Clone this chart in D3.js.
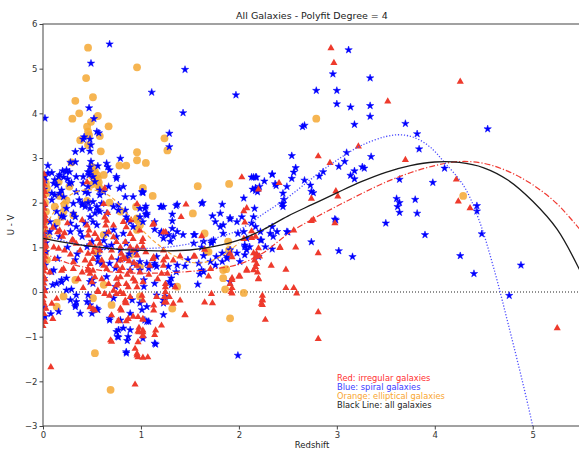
<!DOCTYPE html>
<html>
<head>
<meta charset="utf-8">
<script src="https://cdn.jsdelivr.net/npm/d3@7"></script>
<style>
  body { margin: 0; background: #fff; }
  text { font-family: "DejaVu Sans", sans-serif; }
</style>
</head>
<body>
<div id="chart"></div>
<script>
// U - V colour against redshift, three galaxy types + degree 4 fits
var xTicks = [0, 1, 2, 3, 4, 5];
var yTicks = [-3, -2, -1, 0, 1, 2, 3, 4, 5, 6];

var ellipticals = [
  [0.46,5.47],[0.96,5.03],[0.44,4.79],[0.51,4.36],[0.33,4.28],[0.37,4.0],[0.30,3.88],[0.56,3.94],[0.49,3.81],[0.45,3.70],
  [0.46,3.59],[0.47,3.51],[0.67,3.71],[0.38,3.40],[0.58,3.49],[0.46,3.29],[0.59,3.15],[1.24,3.44],[1.27,3.17],[0.96,3.13],
  [0.96,2.95],[1.05,2.89],[0.78,2.83],[0.85,2.83],[0.29,2.90],[0.50,2.80],[0.52,2.67],[0.55,2.62],[0.56,2.54],[0.53,2.51],
  [0.27,2.36],[0.16,2.47],[0.56,2.39],[0.58,2.32],[0.45,2.04],[0.68,2.0],[0.17,2.15],[0.03,2.43],[0.04,2.32],[0.03,2.21],
  [1.02,2.33],[1.12,2.15],[1.58,2.37],[1.90,2.42],[1.53,1.76],[0.95,1.91],[0.96,1.63],[0.12,1.91],[0.21,1.80],[0.19,1.68],
  [0.31,1.72],[0.96,1.65],[0.99,1.50],[0.96,1.39],[0.62,1.28],[0.55,0.87],[0.99,0.57],[0.89,0.83],[0.33,0.27],[0.62,0.16],
  [0.21,-0.10],[0.14,-0.33],[0.51,-0.14],[0.70,-0.29],[0.99,-0.10],[1.32,-0.37],[0.53,-1.37],[0.69,-2.19],[1.65,1.31],[1.67,0.90],
  [1.84,0.31],[1.86,0.06],[2.05,-0.02],[1.91,-0.59],[1.89,1.13],[1.90,0.94],[1.87,0.51],[1.84,0.49],[1.37,0.12],[0.04,0.72],
  [2.79,3.88],[4.29,2.15],[0.01,1.10],[0.02,1.35],[0.01,1.60],[0.03,1.80],[0.02,2.00],[0.05,1.25],[0.02,0.90],[0.79,1.80],
  [0.53,2.70],[0.50,2.60],[0.57,2.45],[0.49,2.40],[0.22,1.95],[0.24,2.05],[1.69,0.90],[0.62,2.62],[0.14,1.55]
];

var spirals = [
  [1.97,4.41],[3.12,5.42],[2.96,4.88],[3.34,4.79],[2.79,4.51],[3.0,4.51],[3.0,4.21],[3.14,4.14],[3.34,4.17],[3.34,3.93],
  [3.18,3.75],[2.65,3.70],[2.67,3.73],[3.70,3.77],[3.82,3.54],[3.84,3.20],[4.54,3.65],[2.54,3.05],[3.10,3.12],[3.35,3.03],
  [2.58,2.78],[2.56,2.68],[2.54,2.54],[3.02,2.81],[3.08,2.92],[3.14,2.61],[3.18,2.71],[3.18,2.53],[3.26,2.80],[3.28,2.77],
  [2.82,2.59],[2.86,2.69],[2.67,2.50],[2.73,2.39],[2.74,2.25],[2.76,2.22],[2.34,2.63],[2.26,2.48],[2.38,2.38],[2.13,2.57],
  [2.17,2.57],[2.14,2.30],[2.17,2.33],[2.19,2.24],[2.05,2.10],[2.46,2.07],[2.44,1.97],[2.45,1.91],[2.98,1.63],[4.10,2.77],
  [3.98,2.45],[3.64,2.52],[3.61,2.09],[3.64,2.0],[3.62,1.91],[3.64,1.78],[3.80,2.07],[3.82,1.76],[4.43,1.93],[4.43,1.81],
  [3.50,1.54],[3.90,1.28],[4.26,0.81],[4.40,0.41],[4.48,1.30],[4.88,0.60],[4.76,-0.08],[3.02,0.92],[3.16,0.79],[2.74,1.12],
  [2.99,1.61],[1.99,-1.42],[2.34,0.96],[2.50,1.34],[2.22,1.16],
  [0.68,5.55],[0.49,5.12],[1.45,4.98],[1.11,4.47],[1.43,4.01],[0.47,4.12],[0.02,3.89],[0.52,3.88],[1.29,3.55],[0.55,3.59],
  [0.57,3.56],[0.42,3.47],[0.41,3.42],[0.48,3.42],[0.40,3.19],[0.49,3.29],[0.48,3.15],[0.33,3.14],[1.29,3.25],[0.28,2.90],
  [0.33,2.91],[0.05,2.83],[0.49,2.92],[0.56,2.82],[0.66,2.80],[0.79,2.99],[0.75,2.54],[0.78,2.32],[0.09,2.67],[0.02,2.58],
  [0.20,2.71],[0.24,2.73],[0.27,2.69],[0.16,2.58],[0.21,2.57],[0.25,2.53],[0.11,2.43],[0.14,2.39],[0.27,2.43],[0.29,2.45],
  [0.19,2.28],[0.17,2.21],[0.12,2.17],[0.09,2.06],[0.21,2.13],[0.41,2.43],[0.43,2.24],[0.46,2.36],[0.48,2.80],[0.46,2.69],
  [0.47,2.62],[0.51,2.58],[0.53,2.47],[0.58,2.28],[0.58,2.17],[0.37,2.06],[0.40,1.98],[0.43,1.91],[0.46,2.0],[0.51,2.02],
  [0.55,1.91],[0.60,1.98],[0.58,1.80],[0.53,1.76],[0.31,1.76],[0.21,1.68],[0.62,2.24],[0.77,1.83],[1.02,2.24],[1.05,1.92],
  [1.05,1.74],[1.20,1.91],[1.36,1.93],[1.32,1.74],[1.63,2.0],[1.83,1.96],[1.91,1.66],[0.87,1.61],
  [0.07,1.57],[0.12,1.46],[0.07,1.35],[0.17,1.24],[0.28,1.54],[0.34,1.46],[0.38,1.35],[0.43,1.54],[0.48,1.68],[0.51,1.57],
  [0.55,1.50],[0.40,1.24],[0.28,1.35],[0.33,1.68],[0.19,1.70],[0.14,1.80],[0.24,1.87],[0.31,1.98],[0.40,1.95],[0.48,1.87],
  [0.56,1.83],[0.65,1.76],[0.72,1.91],[0.77,1.95],[0.84,1.83],[0.85,1.68],[0.89,1.57],[0.92,1.46],[0.99,1.68],[1.02,1.57],
  [1.06,1.76],[0.99,1.87],[0.65,1.31],[0.72,1.39],[0.75,1.24],[0.82,1.31],[0.85,1.09],[0.79,0.94],[0.65,1.01],[0.58,0.94],
  [0.50,1.13],[0.45,1.01],[0.34,2.24],[0.41,2.58],[0.48,2.69],[0.65,2.88],[0.68,2.73],[0.75,2.58],[0.67,2.36],[0.46,2.21],
  [0.34,2.58],[0.24,2.69],[0.17,2.62],[0.12,2.51],[0.09,2.21],[0.05,2.66],[0.82,2.36],[0.92,2.13],[0.84,2.13],
  [0.11,0.49],[0.10,0.16],[0.19,0.22],[0.24,0.31],[0.29,0.06],[0.33,0.72],[0.48,0.23],[0.51,0.19],[0.50,0.27],[0.56,0.79],
  [0.60,0.64],[0.56,0.68],[0.68,0.64],[0.74,0.53],[0.77,0.72],[0.85,0.75],[0.92,0.64],[0.99,0.68],[0.89,0.49],[0.99,0.49],
  [0.46,-0.07],[0.56,-0.40],[0.34,-0.22],[0.33,-0.29],[0.16,-0.44],[0.02,-0.55],[0.50,-0.48],[0.68,-0.63],[0.79,-0.63],[0.89,-0.48],
  [0.75,-0.89],[0.77,-1.01],[0.86,-1.09],[0.85,-1.34],[0.99,-0.25],[1.01,-0.40],[0.72,-0.14],
  [1.02,2.22],[1.04,1.87],[1.06,1.72],[1.21,1.91],[1.14,1.57],[1.14,1.40],[1.32,1.59],[1.37,1.96],[1.81,1.76],[1.73,1.70],
  [1.76,1.57],[1.32,1.42],[1.37,1.35],[1.28,1.28],[1.30,1.13],[1.43,1.28],[1.54,1.28],[1.64,1.13],[1.72,1.09],[1.84,1.50],
  [1.84,1.31],[1.91,1.63],[1.98,1.57],[2.03,1.68],[1.99,1.31],[2.05,1.35],[2.08,1.20],[2.06,1.05],[2.08,0.94],[2.11,1.01],
  [2.13,1.54],[2.15,1.68],[2.16,1.87],[2.17,1.46],[2.23,1.16],[2.27,1.01],[2.20,0.79],[2.34,1.46],[2.35,1.24],[2.49,1.35],
  [2.45,1.98],[2.45,2.21],[2.49,2.36],[2.34,2.64],[2.15,2.57],[2.18,2.57],[2.17,2.27],[2.21,2.36],[2.37,2.42],[1.01,2.24],
  [1.91,0.94],[1.88,0.79],[1.98,0.87],[1.83,0.87],[1.77,0.79],[1.54,1.09],[1.62,1.0],[1.74,1.16],[1.23,1.20],[1.21,1.35],
  [1.33,1.24],
  [1.14,0.60],[1.16,0.57],[1.36,0.45],[1.29,0.23],[1.31,0.16],[1.14,0.19],[1.03,0.27],[1.03,0.12],[1.25,-0.10],[1.23,-0.25],
  [1.06,-0.33],[1.08,-0.66],[1.02,-1.04],[1.15,-1.17],[1.58,0.17],[1.62,0.49],[1.60,0.40],[1.64,0.45],[1.45,0.58],[1.48,0.72],
  [1.59,0.64],[1.64,0.81],[1.71,0.68],[1.76,0.60],[1.83,0.68],[1.88,0.75],[1.91,0.23],[2.01,0.68],[1.14,0.64],[1.06,0.64],
  [1.08,0.53],
  [1.23,1.91],[1.62,1.98],[1.20,1.31],[1.26,1.31],[1.55,1.28],[1.72,1.13],[1.81,1.46],[2.06,0.83],[2.06,1.01],[2.22,1.35],
  [2.32,1.31],[2.39,1.35],[1.16,0.79],[1.31,0.31],[1.28,0.57],[1.23,-0.18],[1.16,-0.07],[1.37,0.60],[1.23,-0.51],[1.14,-1.15],
  [0.85,-1.37],[0.76,-1.0],[0.68,-0.59],[0.89,-0.85],[0.87,-1.0],[1.04,-0.63],[1.06,-0.66],[0.48,-0.29],[0.45,-0.22],[0.55,-0.37],
  [0.33,-0.33],[0.38,-0.48],[0.77,-0.85],[0.82,-0.81],[0.65,0.34],[0.74,0.12],[0.91,-0.18],[0.09,0.45],[0.14,0.19],[0.24,0.04],
  [0.19,0.27],[0.08,-0.49],[0.28,-0.18],[0.34,-0.07],
  [0.01,1.9],[0.02,1.6],[0.01,1.3],[0.03,0.9],[0.02,0.6],[0.01,0.3],[0.02,0.05],[0.01,-0.35],[0.00,-0.6],[0.01,2.3],
  [0.02,2.5],[0.03,1.1],[0.70,1.05],[0.62,1.15],[0.88,0.85],[0.95,0.90],[0.35,0.85],[0.25,1.00],[0.15,0.75]
];

var irregulars = [
  [0.00,2.52],[0.01,2.42],[0.00,2.33],[0.02,2.25],[0.01,2.15],[0.00,2.05],[0.02,1.97],[0.01,1.88],[0.00,1.80],[0.02,1.72],
  [0.01,1.62],[0.00,1.55],[0.02,1.48],[0.01,1.40],[0.00,1.32],[0.02,1.25],[0.01,1.18],[0.00,1.10],[0.02,1.02],[0.01,0.95],
  [0.00,0.88],[0.02,0.80],[0.01,0.72],[0.00,0.64],[0.02,0.55],[0.01,0.47],[0.00,0.38],[0.02,0.30],[0.01,0.20],[0.00,0.12],
  [0.02,0.03],[0.01,-0.08],[0.00,-0.17],[0.01,-0.25],[0.03,-0.36],[0.01,-0.48],[0.02,-0.66],[0.00,-0.75],[0.01,2.65],[0.03,1.60],
  [0.03,1.05],
  [0.10,-0.59],[0.08,-1.67],[0.70,-1.10],[0.77,-0.64],[0.84,-0.22],[0.85,-0.24],[0.80,-0.40],[0.85,-0.64],[0.92,-0.54],[0.97,-0.55],
  [1.02,-0.61],[0.98,-0.79],[0.97,-0.87],[0.98,-0.89],[1.02,-0.89],[1.02,-0.98],[0.97,-1.11],[0.94,-1.26],[0.96,-1.37],[0.97,-1.45],
  [1.02,-1.46],[1.07,-1.45],[0.94,-2.06],[1.13,-0.29],[1.13,-0.40],[1.15,-0.85],[1.14,-0.95],[1.21,-0.74],[1.24,-0.22],[1.45,-0.51],
  [0.51,-0.37],
  [0.19,0.49],[0.09,-0.25],[0.31,0.53],[0.46,0.53],[0.48,0.42],[0.51,0.49],[0.48,0.64],[0.43,0.72],[0.56,0.01],[0.67,0.19],
  [0.77,0.19],[0.75,0.31],[0.53,0.34],[0.50,0.23],[0.63,-0.03],[0.70,-0.51],[0.77,-0.63],[0.79,-0.36],[0.87,-0.59],[0.69,-1.07],
  [0.96,-1.41],[0.82,-0.03],[0.75,-0.03],[0.87,0.12],[0.96,0.12],[0.79,0.72],[0.82,0.79],
  [1.46,1.97],[1.41,1.69],[1.12,1.52],[1.25,1.35],[1.62,1.26],[2.06,1.57],[2.13,1.37],[2.17,1.25],[2.13,1.22],[2.05,1.20],
  [2.20,0.99],[2.18,0.87],[2.21,0.81],[2.42,1.0],[1.65,0.96],[1.54,0.81],[1.40,0.81],[1.23,0.94],[1.26,0.79],[1.01,1.13],
  [1.02,1.01],[1.91,0.87],[1.93,0.79],
  [2.15,0.88],[2.17,0.80],[2.16,0.72],[2.18,0.64],[2.17,0.57],[2.15,0.50],[2.19,0.45],[2.33,0.60],[2.48,0.51],[2.20,0.31],
  [2.0,0.36],[2.08,0.51],[1.93,0.32],[1.91,0.19],[1.93,0.10],[1.92,0.01],[1.72,-0.03],[1.65,-0.22],[1.73,-0.24],[1.71,0.53],
  [1.69,0.36],[1.55,0.81],[1.33,0.72],[1.23,0.72],[1.23,0.60],[1.27,0.42],[1.21,0.42],[1.25,0.12],[1.25,0.01],[1.24,-0.10],
  [1.26,-0.22],[1.29,-0.10],[1.35,0.12],[1.45,-0.50],[2.24,-0.07],[2.24,-0.18],[2.23,-0.25],[2.27,-0.61],[1.02,-0.59],[1.02,-0.85],
  [1.02,-0.96],[1.02,-0.18],[1.01,-0.07],[1.09,0.60],[1.12,0.75],[1.13,0.79],
  [0.62,1.98],[0.96,1.98],[0.45,2.47],[0.63,1.68],[0.65,1.61],[0.64,1.50],[0.45,1.50],[0.47,1.39],[0.46,1.28],[0.17,1.39],
  [0.22,1.33],[0.11,1.01],[0.16,0.98],[0.22,0.94],[0.31,1.16],[0.34,1.09],[0.38,0.94],[0.53,1.31],[0.56,1.20],[0.58,1.09],
  [0.53,1.01],[0.51,0.90],[0.67,1.35],[0.72,1.24],[0.75,1.13],[0.79,1.01],[0.70,0.94],[0.80,0.87],[0.85,1.46],[0.89,1.31],
  [0.92,1.20],[0.84,1.13],[0.96,1.01],[0.99,1.39],[1.02,1.20],
  [0.10,1.45],[0.15,1.35],[0.20,1.25],[0.30,1.18],[0.31,0.68],[0.21,0.53],[0.07,0.45],[0.40,0.45],[0.46,0.49],[0.56,0.04],
  [0.48,-0.33],[0.53,-0.40],[0.14,-0.14],[1.13,1.54],[1.23,1.35],
  [0.96,0.60],[0.89,0.49],[0.99,0.45],[1.02,0.23],[0.92,0.31],[0.85,0.19],[0.79,0.34],[0.75,0.16],[0.72,0.04],[0.68,-0.07],
  [0.79,0.01],[0.89,-0.10],[0.84,-0.18],
  [0.89,1.01],[0.92,0.94],[0.96,0.83],[0.84,0.75],[0.75,0.60],[0.65,0.53],[0.60,0.72],[0.51,0.75],[0.58,0.94],[0.48,1.09],
  [0.46,0.87],[1.25,0.19],[1.16,-0.10],[1.33,-0.25],[1.40,-0.18],
  [2.94,5.47],[2.97,5.14],[3.52,4.28],[4.26,4.72],[3.22,3.27],[2.81,3.05],[2.93,2.90],[3.70,2.97],[2.03,2.58],[2.41,2.45],
  [2.20,2.31],[2.99,2.27],[3.01,2.15],[2.74,2.10],[4.22,2.53],[4.24,2.04],[4.36,1.89],[2.08,1.89],[2.05,1.82],[2.76,1.63],
  [5.25,-0.80],[2.74,1.60],[2.98,1.55],[2.56,1.39],[2.81,0.88],[2.58,1.01],[2.42,1.01],[2.48,0.10],[2.56,0.10],[2.59,-0.02],
  [2.81,-0.44],[2.81,-1.04],[2.24,-0.16],[2.24,-0.28],[2.20,0.30],[2.08,0.49],[2.01,0.36],[1.93,0.28],[1.93,-0.02],
  [0.88,0.70],[0.93,0.66],[0.81,0.55],[0.86,0.40],[0.94,0.25],[0.78,0.48],[0.70,0.78],[0.62,0.60],[0.90,1.62],[0.82,1.58],
  [0.66,1.78],[0.40,1.62],[0.28,0.85],[0.36,0.30],[0.41,0.10],[0.60,0.30],[1.05,0.90],[1.08,0.40],[1.17,0.30],[0.72,1.50],
  [0.25,1.55],[0.12,0.75],[0.63,2.33]
];

// fit curves
var fitAll = [[0,1.20],[0.25,1.10],[0.5,1.02],[0.75,0.96],[1.0,0.93],[1.25,0.92],[1.5,0.94],[1.75,1.02],[2.0,1.16],
  [2.25,1.40],[2.5,1.70],[2.75,1.96],[3.0,2.22],[3.25,2.47],[3.5,2.68],[3.75,2.83],[4.0,2.91],[4.25,2.90],[4.5,2.78],
  [4.75,2.50],[5.0,2.03],[5.25,1.40],[5.5,0.40]];
var fitSpiral = [[0,1.28],[0.25,1.12],[0.5,1.02],[0.75,0.97],[1.0,0.97],[1.25,1.0],[1.5,1.08],[1.75,1.20],[2.0,1.39],
  [2.25,1.75],[2.5,2.12],[2.75,2.55],[3.0,2.95],[3.25,3.28],[3.5,3.48],[3.65,3.52],[3.8,3.45],[3.95,3.25],[4.1,2.90],
  [4.3,2.36],[4.45,1.62],[4.6,0.55],[4.75,-0.72],[4.9,-2.05],[5.0,-3.0],[5.03,-3.3]];
var fitIrregular = [[0,0.88],[0.25,0.65],[0.5,0.52],[0.75,0.44],[1.0,0.42],[1.25,0.43],[1.5,0.46],[1.75,0.52],[2.0,0.62],
  [2.25,0.88],[2.5,1.30],[2.75,1.63],[3.0,1.92],[3.25,2.20],[3.5,2.46],[3.75,2.67],[4.0,2.83],[4.25,2.92],[4.5,2.88],
  [4.75,2.70],[5.0,2.40],[5.25,1.97],[5.5,1.35]];
var fitElliptical = [[0,1.35],[0.1,1.75],[0.2,2.02],[0.3,2.20],[0.45,2.29],[0.6,2.24],[0.7,2.12],[0.8,1.90],[0.9,1.65],
  [1.0,1.42],[1.1,1.20],[1.23,0.97],[1.35,0.80],[1.5,0.67],[1.6,0.65],[1.7,0.69],[1.8,0.78],[1.9,0.92],[2.0,1.10]];

var legendLines = [
  ["Red: irregular galaxies", "#ff3030"],
  ["Blue: spiral galaxies", "#3a3aff"],
  ["Orange: elliptical galaxies", "#f9a630"],
  ["Black Line: all galaxies", "#222222"]
];

var width = 579, height = 450;
var svg = d3.select("#chart").append("svg")
  .attr("width", width)
  .attr("height", height);

var x = d3.scaleLinear().domain([0, 5.5]).range([43, 581.7]);
var y = d3.scaleLinear().domain([-3, 6]).range([426, 24]);

svg.append("clipPath").attr("id", "plotClip")
  .append("rect")
  .attr("x", x(0)).attr("y", y(6))
  .attr("width", x(5.5) - x(0)).attr("height", y(-3) - y(6));

var plot = svg.append("g").attr("clip-path", "url(#plotClip)");

// dotted zero line
plot.append("line")
  .attr("x1", x(0)).attr("x2", x(5.5))
  .attr("y1", y(0)).attr("y2", y(0))
  .attr("stroke", "#222")
  .attr("stroke-width", 1.1)
  .attr("stroke-dasharray", "1,2");

plot.selectAll(".ell").data(ellipticals).enter().append("circle")
  .attr("cx", d => x(d[0]))
  .attr("cy", d => y(d[1]))
  .attr("r", 3.9)
  .attr("fill", "#f5a834")
  .attr("fill-opacity", 0.85);

var star = d3.symbol().type(d3.symbolStar).size(17);
plot.selectAll(".sp").data(spirals).enter().append("path")
  .attr("d", star)
  .attr("transform", d => "translate(" + x(d[0]) + "," + y(d[1]) + ")")
  .attr("fill", "#0000ff")
  .attr("stroke", "#0000ff")
  .attr("stroke-width", 0.5);

var tri = d3.symbol().type(d3.symbolTriangle).size(22);
plot.selectAll(".irr").data(irregulars).enter().append("path")
  .attr("d", tri)
  .attr("transform", d => "translate(" + x(d[0]) + "," + (y(d[1]) + 0.5) + ")")
  .attr("fill", "#ee3a2c");

var line = d3.line()
  .x(d => x(d[0]))
  .y(d => y(d[1]))
  .curve(d3.curveCatmullRom);

plot.append("path").datum(fitElliptical)
  .attr("d", line).attr("fill", "none")
  .attr("stroke", "#f7a43a").attr("stroke-width", 1.2)
  .attr("stroke-dasharray", "4,2.5");

plot.append("path").datum(fitIrregular)
  .attr("d", line).attr("fill", "none")
  .attr("stroke", "#f03a32").attr("stroke-width", 1.2)
  .attr("stroke-dasharray", "6,2,1.2,2");

plot.append("path").datum(fitSpiral)
  .attr("d", line).attr("fill", "none")
  .attr("stroke", "#4a4aff").attr("stroke-width", 1.3)
  .attr("stroke-dasharray", "1.2,1.8");

plot.append("path").datum(fitAll)
  .attr("d", line).attr("fill", "none")
  .attr("stroke", "#1a1a1a").attr("stroke-width", 1.3);

// spines
svg.append("rect")
  .attr("x", x(0)).attr("y", y(6))
  .attr("width", x(5.5) - x(0)).attr("height", y(-3) - y(6))
  .attr("fill", "none").attr("stroke", "#444").attr("stroke-width", 1);

var xAxis = svg.append("g")
  .attr("transform", "translate(0," + y(-3) + ")")
  .call(d3.axisBottom(x).tickValues(xTicks).tickSize(3.5).tickSizeOuter(0).tickFormat(d3.format("d")));
var yAxis = svg.append("g")
  .attr("transform", "translate(" + x(0) + ",0)")
  .call(d3.axisLeft(y).tickValues(yTicks).tickSize(3.5).tickSizeOuter(0)
    .tickFormat(d => d < 0 ? "\u2212" + Math.abs(d) : String(d)));

[xAxis, yAxis].forEach(function (g) {
  g.select(".domain").remove();
  g.selectAll(".tick line").attr("stroke", "#444");
  g.selectAll(".tick text")
    .attr("fill", "#333")
    .style("font-size", "8.5px")
    .style("font-family", "DejaVu Sans");
});
yAxis.selectAll(".tick text").attr("x", -5.5);
xAxis.selectAll(".tick text").attr("y", 6);

svg.append("text")
  .attr("x", 312).attr("y", 19)
  .attr("text-anchor", "middle")
  .attr("fill", "#222")
  .style("font-size", "9.5px")
  .text("All Galaxies - Polyfit Degree = 4");

svg.append("text")
  .attr("x", 312).attr("y", 448)
  .attr("text-anchor", "middle")
  .attr("fill", "#222")
  .style("font-size", "8.5px")
  .text("Redshift");

svg.append("text")
  .attr("transform", "translate(14," + y(1.5) + ") rotate(-90)")
  .attr("text-anchor", "middle")
  .attr("fill", "#222")
  .style("font-size", "8.5px")
  .text("U - V");

svg.selectAll(".legend").data(legendLines).enter().append("text")
  .attr("x", 337)
  .attr("y", (d, i) => 380.5 + i * 9.2)
  .attr("fill", d => d[1])
  .style("font-size", "8.3px")
  .text(d => d[0]);
</script>
</body>
</html>
